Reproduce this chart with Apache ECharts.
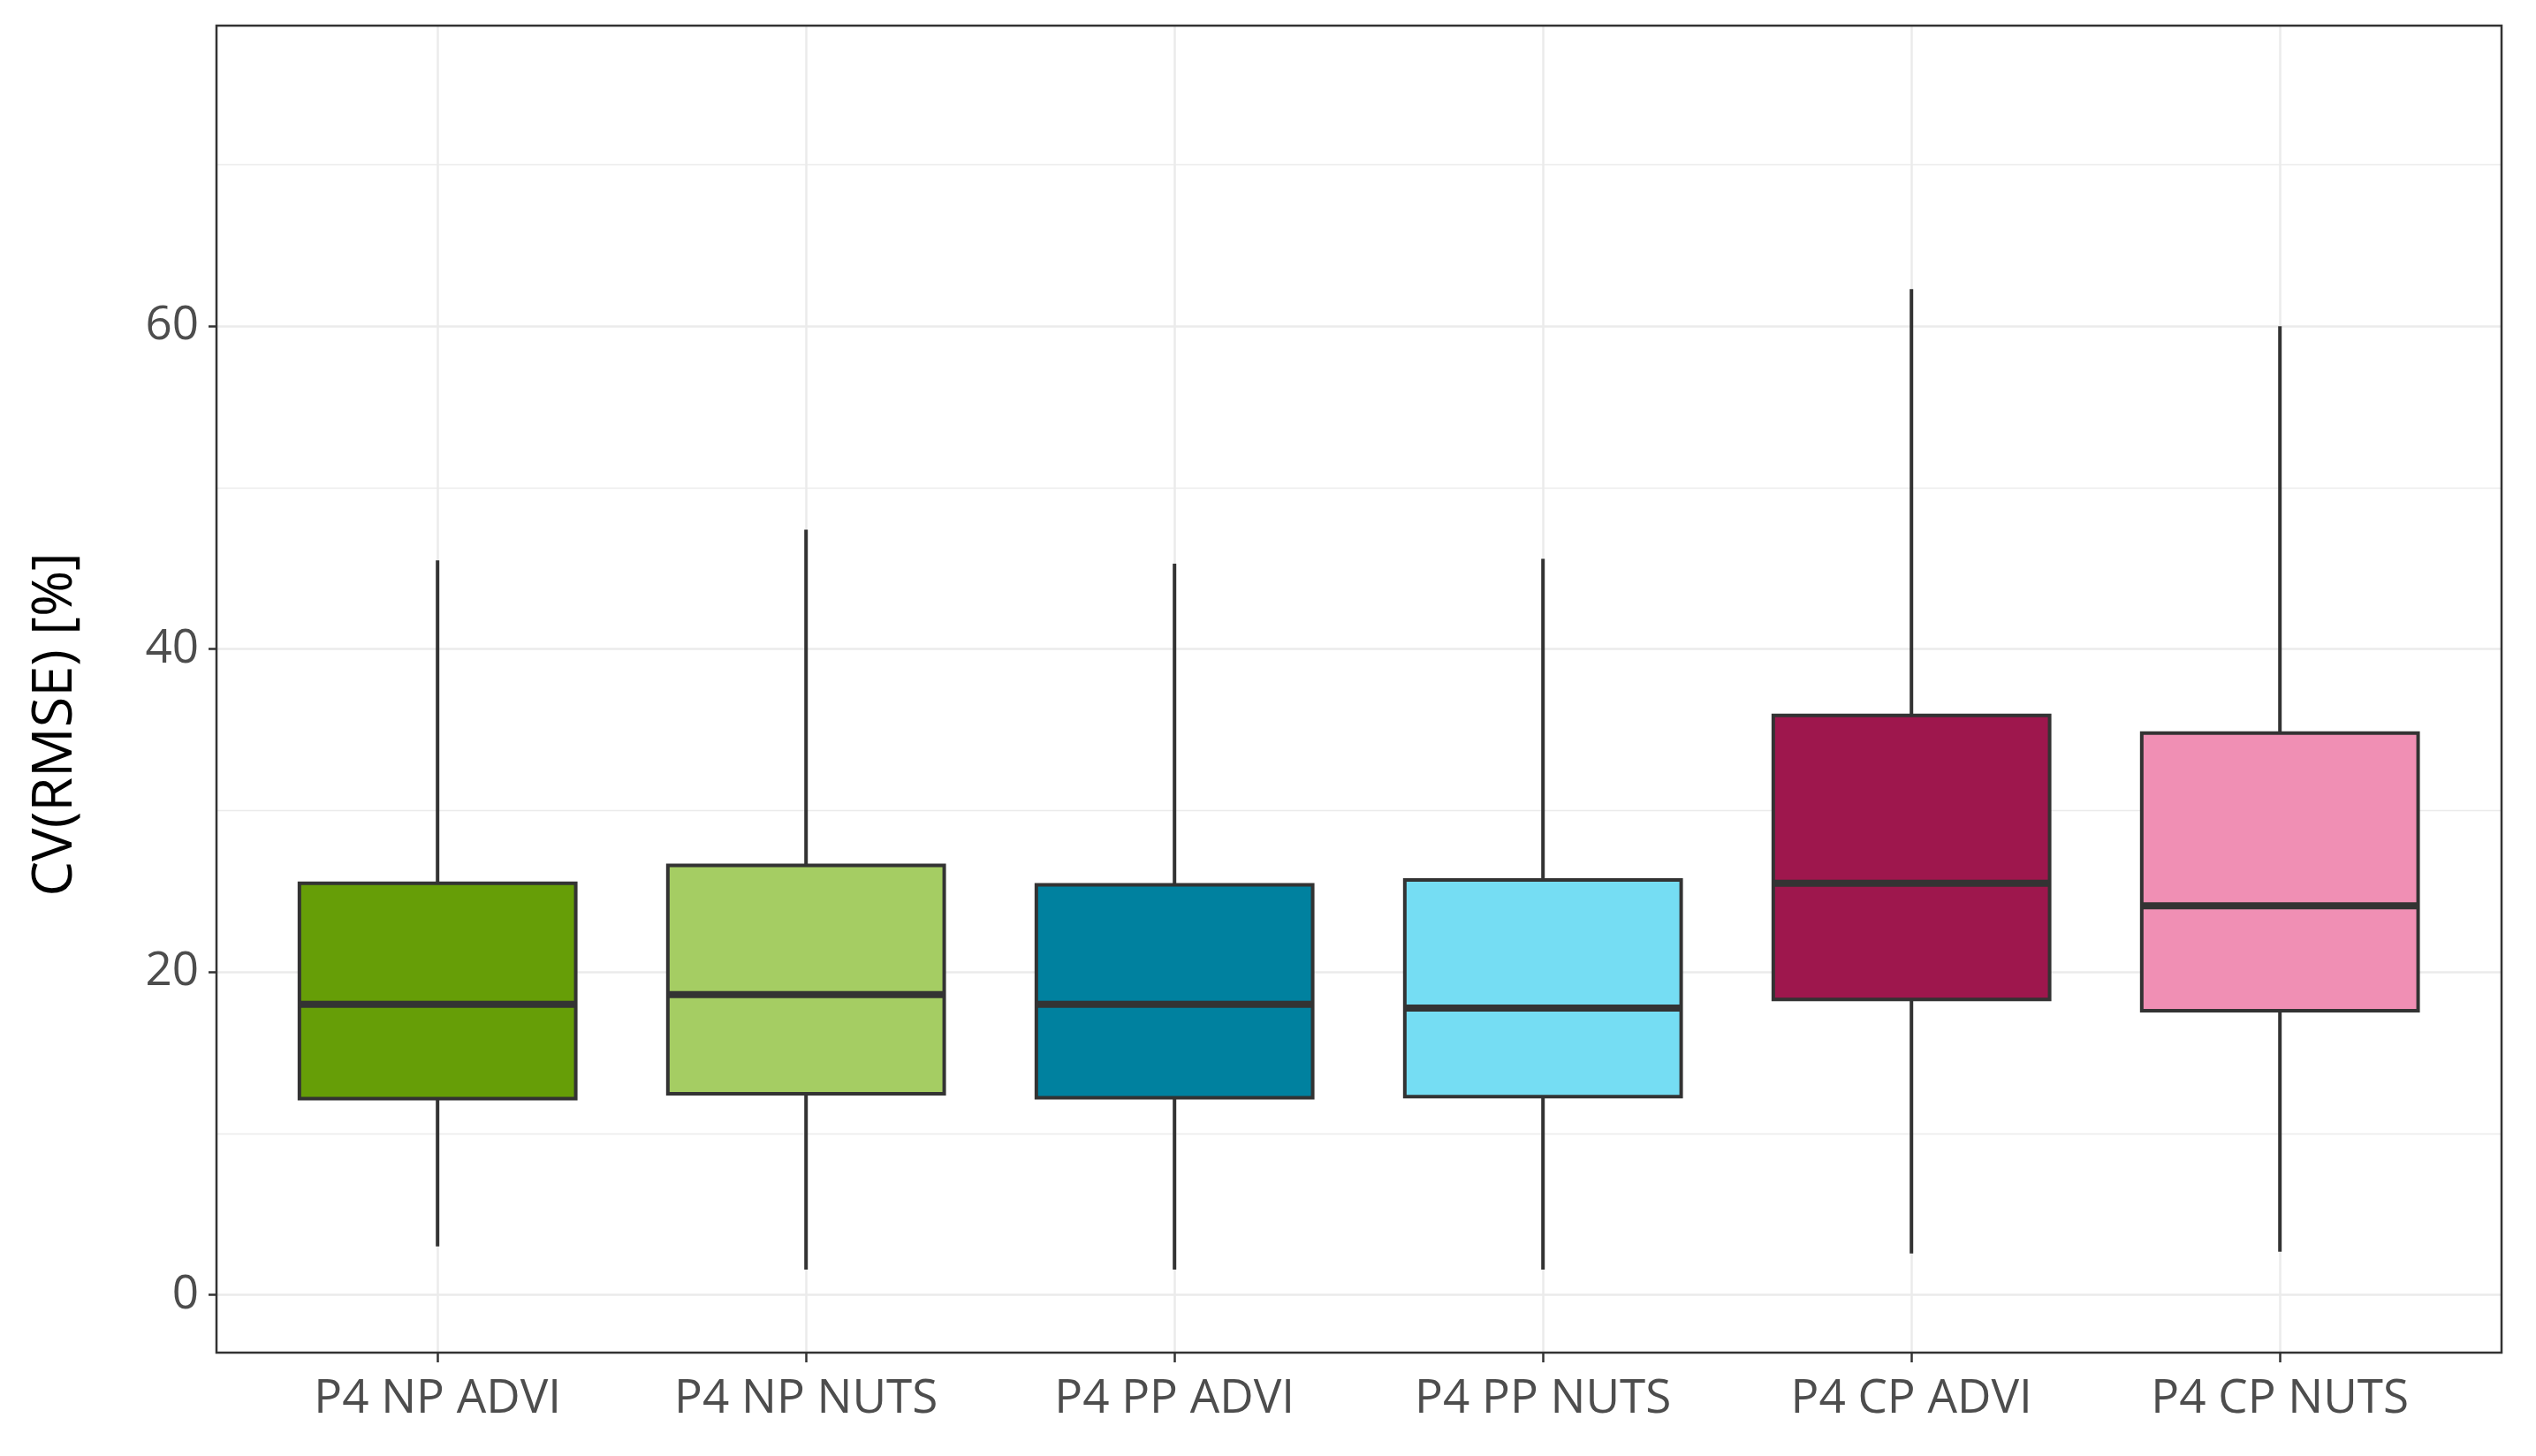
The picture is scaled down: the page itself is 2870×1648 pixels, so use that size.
<!DOCTYPE html>
<html>
<head>
<meta charset="utf-8">
<script src="https://cdn.jsdelivr.net/npm/echarts@6/dist/echarts.min.js"></script>
<style>html,body{margin:0;padding:0;background:#fff;}#c{width:2870px;height:1648px;}</style>
</head>
<body>
<div id="c"></div>
<script>
const categories = ['P4 NP ADVI', 'P4 NP NUTS', 'P4 PP ADVI', 'P4 PP NUTS', 'P4 CP ADVI', 'P4 CP NUTS'];
const whiskerLow = [3.0, 1.56, 1.56, 1.56, 2.56, 2.67];
const q1 = [12.15, 12.45, 12.2, 12.27, 18.3, 17.6];
const median = [18.0, 18.6, 18.0, 17.76, 25.5, 24.1];
const q3 = [25.5, 26.6, 25.4, 25.7, 35.9, 34.8];
const whiskerHigh = [45.5, 47.4, 45.3, 45.6, 62.3, 60.0];
const fillColors = ['#669E07', '#A5CD63', '#00819F', '#75DDF3', '#9E174D', '#F08FB4'];
const yTicks = [0, 20, 40, 60];
const yTitle = 'CV(RMSE) [%]';

const Y_MIN = -3.585, Y_MAX = 78.63;
const boxData = categories.map((c, i) => [i, whiskerLow[i], q1[i], median[i], q3[i], whiskerHigh[i]]);
const FONT = '"Open Sans", sans-serif';
const chart = echarts.init(document.getElementById('c'), null, {renderer: 'canvas'});

chart.setOption({
  animation: false,
  backgroundColor: '#ffffff',
  grid: [
    {left: 245, right: 39, top: 29, bottom: 117, show: true, borderColor: '#333333', borderWidth: 2.5, backgroundColor: 'transparent', z: 3},
    {left: 286.7, right: 81.3, top: 29, bottom: 117}
  ],
  xAxis: [
    {gridIndex: 0, type: 'value', min: 0, max: 1, show: false},
    {
      gridIndex: 1, type: 'category', data: categories, boundaryGap: true, position: 'bottom',
      axisLine: {show: false, onZero: false},
      axisTick: {show: true, alignWithLabel: true, length: 11, lineStyle: {color: '#333333', width: 2.5}},
      axisLabel: {color: '#4D4D4D', fontFamily: FONT, fontSize: 53, margin: 26},
      splitLine: {show: true, alignWithLabel: true, lineStyle: {color: '#EBEBEB', width: 2.5}}
    }
  ],
  yAxis: [
    {
      gridIndex: 0, type: 'value', min: Y_MIN, max: Y_MAX, splitNumber: 4,
      axisLine: {show: false, onZero: false},
      axisTick: {show: true, length: 9, lineStyle: {color: '#333333', width: 2.5}, customValues: yTicks},
      axisLabel: {color: '#4D4D4D', fontFamily: FONT, fontSize: 53, margin: 20, customValues: yTicks,
        formatter: v => String(Math.round(v))},
      splitLine: {show: true, lineStyle: {color: '#EBEBEB', width: 2.5}},
      minorTick: {show: false, splitNumber: 2},
      minorSplitLine: {show: true, lineStyle: {color: '#EBEBEB', width: 1.3}},
      name: yTitle, nameLocation: 'middle', nameGap: 150, nameRotate: 90,
      nameTextStyle: {color: '#000000', fontFamily: FONT, fontSize: 63, padding: [0, 80, 0, 0]}
    },
    {gridIndex: 1, type: 'value', min: Y_MIN, max: Y_MAX, show: false, splitLine: {show: false}}
  ],
  series: [{
    type: 'custom',
    xAxisIndex: 1, yAxisIndex: 1,
    z: 5,
    data: boxData,
    renderItem: function (params, api) {
      const i = api.value(0);
      const pLow = api.coord([i, api.value(1)]);
      const pQ1 = api.coord([i, api.value(2)]);
      const pMed = api.coord([i, api.value(3)]);
      const pQ3 = api.coord([i, api.value(4)]);
      const pHigh = api.coord([i, api.value(5)]);
      const band = api.size([1, 0])[0];
      const half = band * 0.375;
      const cx = pMed[0];
      const stroke = '#333333';
      return {
        type: 'group',
        children: [
          {type: 'line', shape: {x1: cx, y1: pHigh[1], x2: cx, y2: pQ3[1]}, style: {stroke: stroke, lineWidth: 4}},
          {type: 'line', shape: {x1: cx, y1: pQ1[1], x2: cx, y2: pLow[1]}, style: {stroke: stroke, lineWidth: 4}},
          {type: 'rect', shape: {x: cx - half, y: pQ3[1], width: 2 * half, height: pQ1[1] - pQ3[1]},
            style: {fill: fillColors[params.dataIndex], stroke: stroke, lineWidth: 4}},
          {type: 'line', shape: {x1: cx - half, y1: pMed[1], x2: cx + half, y2: pMed[1]}, style: {stroke: stroke, lineWidth: 8}}
        ]
      };
    }
  }]
});
</script>
</body>
</html>
